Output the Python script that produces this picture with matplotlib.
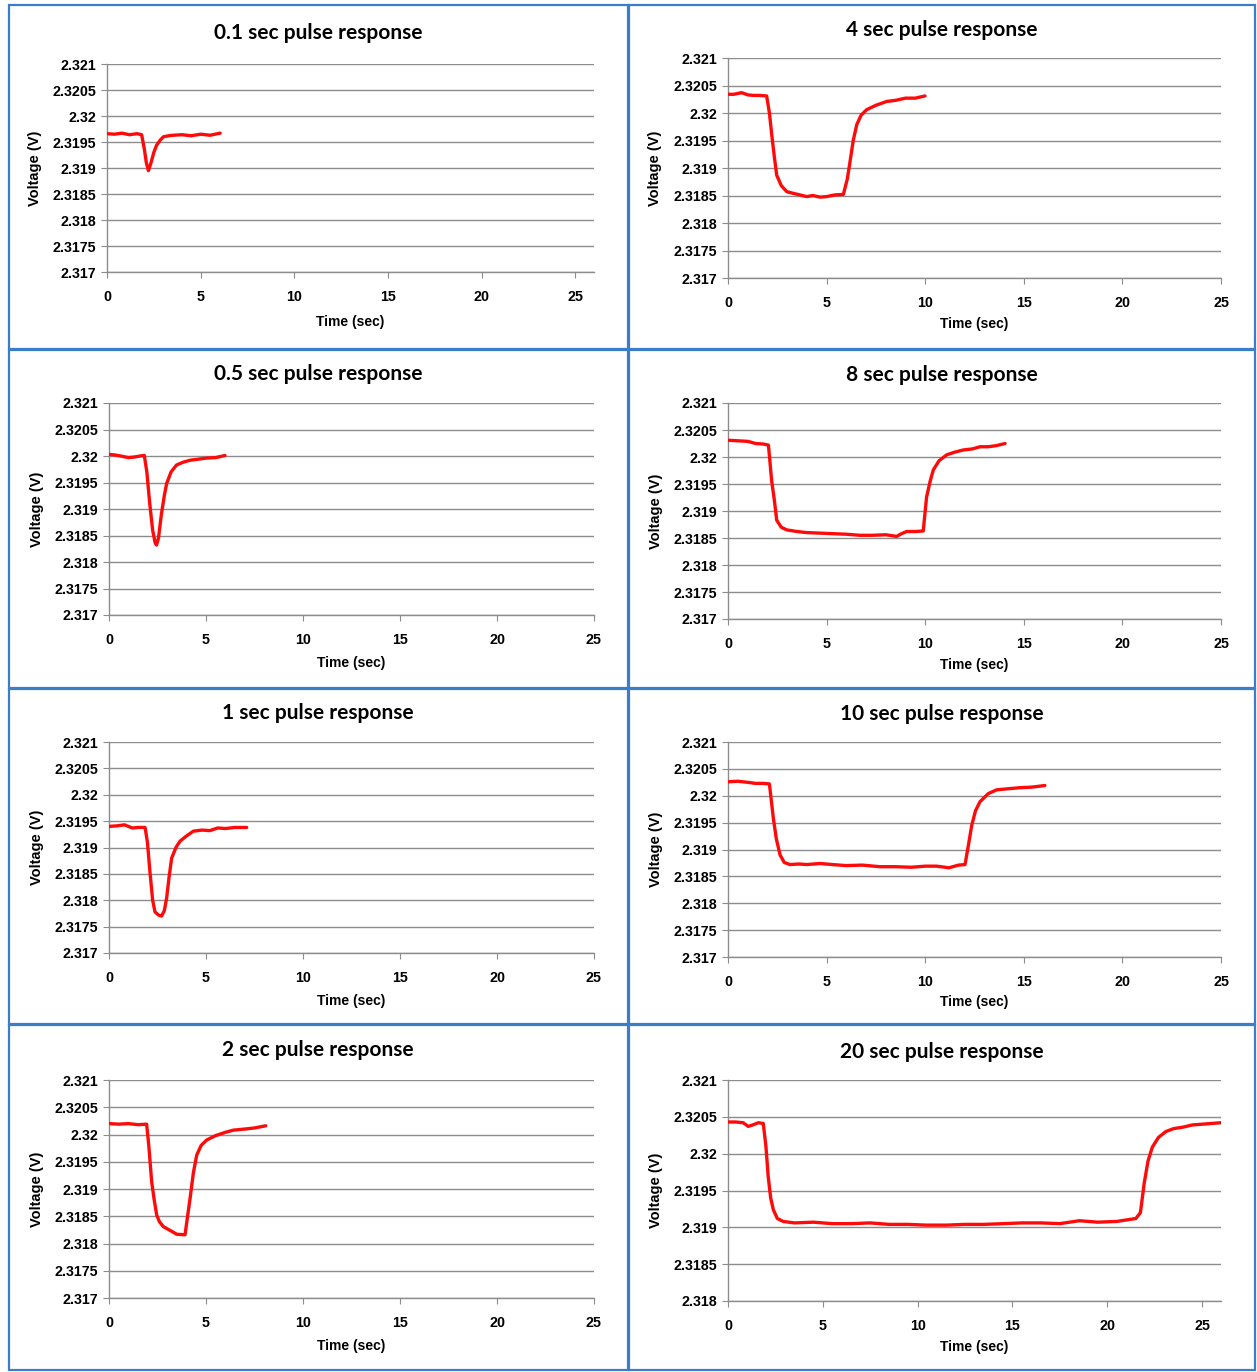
import numpy as np
import matplotlib
matplotlib.use("Agg")
import matplotlib.pyplot as plt
import matplotlib.ticker as ticker
from matplotlib.patches import Rectangle

W, H = 1257, 1372

### Data
titles = ["0.1 sec pulse response", "4 sec pulse response",
          "0.5 sec pulse response", "8 sec pulse response",
          "1 sec pulse response", "10 sec pulse response",
          "2 sec pulse response", "20 sec pulse response"]

t01 = [0, 0.4, 0.8, 1.2, 1.6, 1.85, 2.0, 2.1, 2.21, 2.35, 2.5, 2.65, 2.85,
       3.01, 3.3, 3.54, 4.0, 4.5, 5.0, 5.5, 6.04]
v01 = [2.31966, 2.31965, 2.31967, 2.31964, 2.31966, 2.31964, 2.31935,
       2.31910, 2.31895, 2.31910, 2.31930, 2.31944, 2.31954, 2.31960,
       2.31962, 2.31963, 2.31964, 2.31962, 2.31965, 2.31963, 2.31967]

t05 = [0, 0.3, 0.6, 1.0, 1.3, 1.6, 1.82, 1.95, 2.1, 2.25, 2.38, 2.45, 2.55,
       2.7, 2.85, 2.97, 3.2, 3.48, 3.8, 4.18, 4.6, 5.0, 5.5, 5.98]
v05 = [2.32003, 2.32002, 2.32000, 2.31997, 2.31998, 2.32000, 2.32001,
       2.31970, 2.31910, 2.31860, 2.31836, 2.31832, 2.31845, 2.31890,
       2.31925, 2.31948, 2.31970, 2.31983, 2.31988, 2.31992, 2.31994,
       2.31996, 2.31997, 2.32001]

t1 = [0, 0.4, 0.8, 1.2, 1.5, 1.86, 1.98, 2.11, 2.25, 2.37, 2.55, 2.71, 2.85,
      2.97, 3.1, 3.23, 3.45, 3.66, 4.0, 4.35, 4.8, 5.2, 5.6, 6.0, 6.5, 7.1]
v1 = [2.31940, 2.31941, 2.31943, 2.31937, 2.31938, 2.31938, 2.31910,
      2.31854, 2.31800, 2.31778, 2.31772, 2.31770, 2.31780, 2.31804,
      2.31845, 2.31880, 2.31900, 2.31912, 2.31922, 2.31931, 2.31933,
      2.31932, 2.31937, 2.31936, 2.31938, 2.31938]

t2 = [0, 0.5, 1.0, 1.5, 1.94, 2.05, 2.2, 2.33, 2.46, 2.6, 2.8, 3.1, 3.49,
      3.92, 4.05, 4.18, 4.35, 4.52, 4.75, 5.04, 5.5, 6.0, 6.41, 7.0, 7.5, 8.08]
v2 = [2.32020, 2.32019, 2.32020, 2.32018, 2.32019, 2.31980, 2.31913,
      2.31880, 2.31852, 2.31840, 2.31831, 2.31825, 2.31817, 2.31816,
      2.31850, 2.31883, 2.31930, 2.31962, 2.31980, 2.31990, 2.31998,
      2.32004, 2.32008, 2.32010, 2.32012, 2.32016]

t4 = [0, 0.3, 0.69, 1.0, 1.28, 1.6, 1.96, 2.1, 2.22, 2.35, 2.47, 2.7, 2.98,
      3.3, 3.65, 4.0, 4.3, 4.67, 5.0, 5.4, 5.85, 6.05, 6.19, 6.35, 6.53,
      6.75, 7.03, 7.5, 8.05, 8.5, 9.0, 9.5, 9.99]
v4 = [2.32034, 2.32034, 2.32037, 2.32033, 2.32032, 2.32032, 2.32031,
      2.32000, 2.31960, 2.31920, 2.31887, 2.31868, 2.31857, 2.31854,
      2.31851, 2.31848, 2.31850, 2.31847, 2.31848, 2.31851, 2.31852,
      2.31880, 2.31912, 2.31950, 2.31979, 2.31996, 2.32006, 2.32014,
      2.32021, 2.32023, 2.32027, 2.32027, 2.32031]

t8 = [0, 0.5, 1.0, 1.4, 1.79, 2.05, 2.13, 2.21, 2.35, 2.47, 2.7, 2.98, 3.5,
      4.0, 4.67, 5.3, 6.0, 6.69, 7.3, 8.0, 8.55, 8.8, 9.06, 9.5, 9.9, 10.07,
      10.25, 10.41, 10.7, 11.09, 11.5, 11.93, 12.4, 12.78, 13.2, 13.6, 14.05]
v8 = [2.32031, 2.32030, 2.32029, 2.32025, 2.32024, 2.32022, 2.31990,
      2.31957, 2.31920, 2.31883, 2.31870, 2.31865, 2.31862, 2.31860,
      2.31859, 2.31858, 2.31857, 2.31855, 2.31855, 2.31856, 2.31853,
      2.31858, 2.31862, 2.31862, 2.31863, 2.31926, 2.31955, 2.31976,
      2.31993, 2.32004, 2.32009, 2.32013, 2.32015, 2.32019, 2.32019,
      2.32021, 2.32025]

t10 = [0, 0.5, 1.0, 1.4, 1.79, 2.1, 2.2, 2.3, 2.45, 2.64, 2.85, 3.14, 3.6,
       4.0, 4.67, 5.3, 6.0, 6.8, 7.71, 8.5, 9.3, 10.0, 10.58, 11.2, 11.7,
       12.02, 12.2, 12.36, 12.55, 12.78, 13.2, 13.62, 14.2, 14.81, 15.4, 16.07]
v10 = [2.32026, 2.32027, 2.32025, 2.32023, 2.32023, 2.32022, 2.31990,
       2.31958, 2.31920, 2.31890, 2.31876, 2.31872, 2.31873, 2.31872,
       2.31874, 2.31872, 2.31870, 2.31871, 2.31868, 2.31868, 2.31867,
       2.31869, 2.31869, 2.31866, 2.31871, 2.31872, 2.31910, 2.31945,
       2.31972, 2.31989, 2.32004, 2.32011, 2.32013, 2.32015, 2.32016,
       2.32019]

t20 = [0, 0.4, 0.8, 1.07, 1.3, 1.6, 1.86, 2.0, 2.12, 2.25, 2.39, 2.6, 2.91,
       3.5, 4.5, 5.5, 6.5, 7.5, 8.5, 9.5, 10.46, 11.5, 12.5, 13.5, 14.5,
       15.5, 16.5, 17.5, 18.53, 19.5, 20.5, 21.51, 21.75, 21.95, 22.15,
       22.38, 22.7, 23.09, 23.5, 24.0, 24.49, 25.0, 25.5, 25.98]
v20 = [2.32043, 2.32043, 2.32042, 2.32037, 2.32039, 2.32042, 2.32041,
       2.32010, 2.31969, 2.31940, 2.31924, 2.31912, 2.31908, 2.31906,
       2.31907, 2.31905, 2.31905, 2.31906, 2.31904, 2.31904, 2.31903,
       2.31903, 2.31904, 2.31904, 2.31905, 2.31906, 2.31906, 2.31905,
       2.31909, 2.31907, 2.31908, 2.31912, 2.31920, 2.31960, 2.31990,
       2.32009, 2.32022, 2.32030, 2.32034, 2.32036, 2.32039, 2.32040,
       2.32041, 2.32042]

series = [(t01, v01), (t4, v4), (t05, v05), (t8, v8),
          (t1, v1), (t10, v10), (t2, v2), (t20, v20)]
xmax = [26, 25, 25, 25, 25, 25, 25, 26]
ylims = [(2.317, 2.321)] * 7 + [(2.318, 2.321)]

### Layout in pixels
# plot area (x0, y0, x1, y1), title centre y, ylabel x, xlabel y
boxes = [(107, 64, 594, 272), (728, 58, 1221, 278),
         (109, 403, 594, 615), (728, 403, 1221, 619),
         (109, 742, 594, 953), (728, 742, 1221, 957),
         (109, 1080, 594, 1298), (728, 1080, 1221, 1301)]
title_y = [33, 30, 374, 375, 713, 714, 1050, 1052]
ylab_x = [35, 655, 37, 656, 37, 656, 37, 656]
xlab_y = [322, 324, 663, 665, 1001, 1002, 1346, 1347]
frames_x = [(9, 628), (629, 1255)]
frames_y = [(5, 349), (350, 688), (689, 1024), (1025, 1370)]

grid_col = '#8c8c8c'
line_col = '#ff0a0a'
frame_col = '#3a7dc9'

fig = plt.figure(figsize=(W / 100, H / 100), dpi=100)
fig.patch.set_facecolor('white')

for (fy0, fy1) in frames_y:
    for (fx0, fx1) in frames_x:
        fig.patches.append(Rectangle((fx0 / W, 1 - fy1 / H), (fx1 - fx0) / W,
                                     (fy1 - fy0) / H, transform=fig.transFigure,
                                     fill=False, edgecolor=frame_col, lw=1.6))

for i, (t, v) in enumerate(series):
    x0, y0, x1, y1 = boxes[i]
    ax = fig.add_axes([x0 / W, 1 - y1 / H, (x1 - x0) / W, (y1 - y0) / H])
    ax.plot(t, v, color=line_col, lw=2.4, solid_joinstyle='round',
            solid_capstyle='round', zorder=3)
    ax.set_xlim(0, xmax[i])
    ax.set_ylim(*ylims[i])
    ax.xaxis.set_major_locator(ticker.MultipleLocator(5))
    ax.yaxis.set_major_locator(ticker.MultipleLocator(0.0005))
    ax.yaxis.set_major_formatter(ticker.FuncFormatter(lambda y, p: '%g' % round(y, 4)))
    ax.set_axisbelow(True)
    ax.yaxis.grid(True, color=grid_col, lw=1.0)
    for s in ['top', 'right']:
        ax.spines[s].set_visible(False)
    for s in ['left', 'bottom']:
        ax.spines[s].set_color(grid_col)
        ax.spines[s].set_linewidth(1.0)
    ax.tick_params(axis='y', length=4, color=grid_col, pad=4)
    ax.tick_params(axis='x', length=4, color=grid_col, pad=9)
    for lab in ax.get_xticklabels() + ax.get_yticklabels():
        lab.set_fontfamily('Liberation Sans')
        lab.set_fontweight('bold')
        lab.set_fontsize(10.3)

    cx = (x0 + x1) / 2
    fig.text(cx / W, 1 - xlab_y[i] / H, 'Time (sec)', ha='center', va='center',
             family='Liberation Sans', weight='bold', fontsize=10)
    fig.text(ylab_x[i] / W, 1 - (y0 + y1) / 2 / H, 'Voltage (V)', rotation=90,
             ha='center', va='center', family='Liberation Sans',
             weight='bold', fontsize=10.5)
    tx = 318 if i % 2 == 0 else 942
    fig.text(tx / W, 1 - title_y[i] / H, titles[i], ha='center', va='center',
             family='Lato', weight='bold', fontsize=15)

fig.savefig('out.png', dpi=100)
